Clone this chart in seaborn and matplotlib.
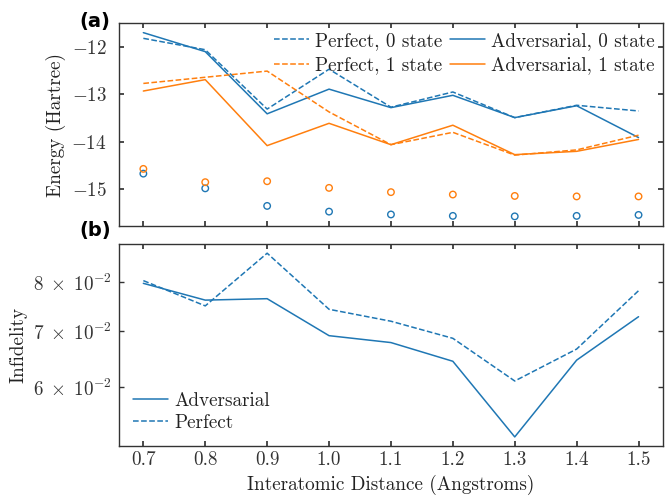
import numpy as np
import pandas as pd
import matplotlib
matplotlib.use("Agg")
import matplotlib.pyplot as plt
from matplotlib.lines import Line2D
from matplotlib.ticker import FuncFormatter
import seaborn as sns

# ---------------- data ----------------
distance = [0.7, 0.8, 0.9, 1.0, 1.1, 1.2, 1.3, 1.4, 1.5]
tick_labels = ["0.7", "0.8", "0.9", "1.0", "1.1", "1.2", "1.3", "1.4", "1.5"]

perfect_0 = [-11.82, -12.06, -13.31, -12.47, -13.27, -12.95, -13.49, -13.23, -13.35]
adversarial_0 = [-11.70, -12.10, -13.41, -12.89, -13.28, -13.02, -13.49, -13.24, -13.91]
perfect_1 = [-12.77, -12.64, -12.51, -13.37, -14.06, -13.80, -14.28, -14.17, -13.86]
adversarial_1 = [-12.93, -12.69, -14.08, -13.61, -14.06, -13.65, -14.27, -14.20, -13.95]
exact_0 = [-14.67, -14.98, -15.35, -15.47, -15.53, -15.56, -15.57, -15.56, -15.54]
exact_1 = [-14.57, -14.85, -14.83, -14.97, -15.06, -15.11, -15.14, -15.15, -15.15]

infid_adversarial = [0.0798, 0.0762, 0.0765, 0.0691, 0.0678, 0.0644, 0.0523, 0.0646, 0.0728]
infid_perfect = [0.0804, 0.0750, 0.0867, 0.0743, 0.0719, 0.0686, 0.0610, 0.0666, 0.0782]

# ---------------- style ----------------
sns.set_theme(style="ticks")
plt.rcParams.update({
    "font.family": "serif",
    "font.serif": ["cmr10"],
    "mathtext.fontset": "cm",
    "axes.formatter.use_mathtext": True,
    "axes.unicode_minus": True,
    "xtick.direction": "in",
    "ytick.direction": "in",
    "xtick.top": True,
    "ytick.right": True,
    "xtick.major.size": 3.5,
    "ytick.major.size": 3.5,
    "ytick.minor.size": 3.5,
    "axes.edgecolor": "#333333",
    "axes.linewidth": 1.0,
    "text.color": "#222222",
    "axes.labelcolor": "#222222",
    "xtick.color": "#333333",
    "ytick.color": "#333333",
})

BLUE = "#1f77b4"
ORANGE = "#ff7f0e"
FS = 13.8

fig = plt.figure(figsize=(6.7, 4.99), dpi=100)
ax1 = fig.add_axes([0.177, 0.548, 0.813, 0.405])
ax2 = fig.add_axes([0.177, 0.106, 0.813, 0.405], sharex=ax1)

lw = 1.1
sns.lineplot(x=distance, y=perfect_0, ax=ax1, color=BLUE, linestyle="--", lw=lw)
sns.lineplot(x=distance, y=adversarial_0, ax=ax1, color=BLUE, linestyle="-", lw=lw)
sns.lineplot(x=distance, y=perfect_1, ax=ax1, color=ORANGE, linestyle="--", lw=lw)
sns.lineplot(x=distance, y=adversarial_1, ax=ax1, color=ORANGE, linestyle="-", lw=lw)
sns.scatterplot(x=distance, y=exact_0, ax=ax1, marker="o", s=22,
                facecolor="none", edgecolor=BLUE, linewidth=1.0)
sns.scatterplot(x=distance, y=exact_1, ax=ax1, marker="o", s=22,
                facecolor="none", edgecolor=ORANGE, linewidth=1.0)

handles = [
    Line2D([], [], color=BLUE, ls="--", lw=lw),
    Line2D([], [], color=ORANGE, ls="--", lw=lw),
    Line2D([], [], color=BLUE, ls="-", lw=lw),
    Line2D([], [], color=ORANGE, ls="-", lw=lw),
]
labels = ["Perfect, 0 state", "Perfect, 1 state",
          "Adversarial, 0 state", "Adversarial, 1 state"]
ax1.legend(handles, labels, ncol=2, loc="upper right", frameon=False,
           fontsize=FS, handlelength=1.85, handletextpad=0.3,
           columnspacing=0.4, labelspacing=0.33, borderaxespad=0.25,
           borderpad=0.2)
ax1.set_ylabel("Energy (Hartree)", fontsize=FS)
ax1.set_yticks([-12, -13, -14, -15])
ax1.tick_params(labelsize=FS, labelbottom=False)
ax1.tick_params(axis="y", pad=8.5)

sns.lineplot(x=distance, y=infid_adversarial, ax=ax2, color=BLUE, linestyle="-",
             lw=lw, label="Adversarial")
sns.lineplot(x=distance, y=infid_perfect, ax=ax2, color=BLUE, linestyle="--",
             lw=lw, label="Perfect")
ax2.set_yscale("log")


def sci_label(v, pos):
    exp = int(np.floor(np.log10(v) + 1e-9))
    mant = int(round(v / 10 ** exp))
    return r"$%d\;\times\;10^{%d}$" % (mant, exp)


ax2.yaxis.set_minor_formatter(FuncFormatter(sci_label))
ax2.legend(loc="lower left", frameon=False, fontsize=FS, handlelength=1.85,
           handletextpad=0.3, labelspacing=0.2, borderaxespad=0.45, borderpad=0.3)
ax2.set_ylabel("Infidelity", fontsize=FS)
ax2.set_xlabel("Interatomic Distance (Angstroms)", fontsize=FS)
ax2.set_xticks(distance)
ax2.set_xticklabels(tick_labels)
ax2.tick_params(which="both", labelsize=FS)
ax2.tick_params(axis="y", which="both", pad=5)

for ax in (ax1, ax2):
    ax.margins(x=0.05, y=0.05)

fig.text(0.118, 0.956, "(a)", fontsize=14, fontweight="bold",
         family="DejaVu Sans", ha="left", va="center", color="black")
fig.text(0.118, 0.539, "(b)", fontsize=14, fontweight="bold",
         family="DejaVu Sans", ha="left", va="center", color="black")

fig.savefig("out.png", dpi=100)
